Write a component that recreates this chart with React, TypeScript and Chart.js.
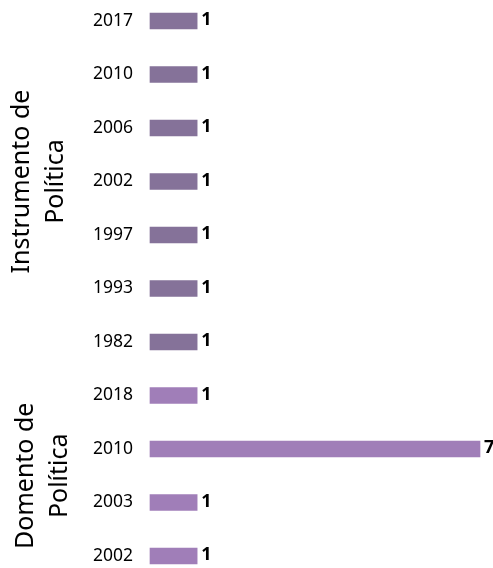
import React, { useEffect, useRef } from "react";
import { Chart, registerables } from "chart.js";

Chart.register(...registerables);

const years = ["2017", "2010", "2006", "2002", "1997", "1993", "1982", "2018", "2010", "2003", "2002"];
const counts = [1, 1, 1, 1, 1, 1, 1, 1, 7, 1, 1];
const groups = ["Instrumento de Política", "Instrumento de Política", "Instrumento de Política", "Instrumento de Política", "Instrumento de Política", "Instrumento de Política", "Instrumento de Política", "Domento de Política", "Domento de Política", "Domento de Política", "Domento de Política"];
const groupLabels = [
  { name: "Instrumento de Política", lines: ["Instrumento de", "Política"], from: 0, to: 6 },
  { name: "Domento de Política", lines: ["Domento de", "Política"], from: 7, to: 10 },
];
const groupColors: Record<string, string> = {
  "Instrumento de Política": "#857299",
  "Domento de Política": "#A07EB8",
};

const FONT = "'Noto Sans', sans-serif";

export default function App() {
  const ref = useRef<HTMLCanvasElement | null>(null);
  useEffect(() => {
    document.body.style.margin = "0";
    const canvas = ref.current!;
    const groupPlugin = {
      id: "groupPlugin",
      afterDraw(chart: any) {
        const ctx = chart.ctx;
        const y = chart.scales.y;
        const x = chart.scales.x;
        ctx.save();
        // value labels
        ctx.font = `bold 18px ${FONT}`;
        ctx.fillStyle = "#000";
        ctx.textAlign = "left";
        ctx.textBaseline = "middle";
        counts.forEach((v, i) => {
          ctx.fillText(String(v), x.getPixelForValue(v) + 4, y.getPixelForValue(i) - 1);
        });
        // group labels
        ctx.font = `25px ${FONT}`;
        ctx.fillStyle = "#000";
        ctx.textAlign = "center";
        ctx.textBaseline = "alphabetic";
        const baselines = [
          [29, 63],
          [33, 67],
        ];
        groupLabels.forEach((g, gi) => {
          const cy = (y.getPixelForValue(g.from) + y.getPixelForValue(g.to)) / 2;
          g.lines.forEach((line, li) => {
            ctx.save();
            ctx.translate(baselines[gi][li], cy);
            ctx.rotate(-Math.PI / 2);
            ctx.fillText(line, 0, 0);
            ctx.restore();
          });
        });
        ctx.restore();
      },
    };
    const chart = new Chart(canvas, {
      type: "bar",
      data: {
        labels: years,
        datasets: [
          {
            data: counts,
            backgroundColor: groups.map((g) => groupColors[g]),
            barThickness: 16,
            clip: false as any,
          },
        ],
      },
      options: {
        indexAxis: "y",
        animation: false,
        responsive: false,
        maintainAspectRatio: false,
        layout: { padding: { top: 21, bottom: 12, right: 13, left: 0 } },
        plugins: { legend: { display: false }, tooltip: { enabled: false } },
        scales: {
          x: { display: false, min: 0, max: 7 },
          y: {
            offset: false,
            grid: { display: false, drawTicks: false },
            border: { display: false },
            ticks: { padding: 17, color: "#000", font: { family: FONT, size: 17.5 } },
            afterFit(scale: any) {
              scale.width = 150;
              scale.paddingTop = 0;
              scale.paddingBottom = 0;
            },
          },
        },
      },
      plugins: [groupPlugin],
    });
    return () => chart.destroy();
  }, []);
  return <canvas ref={ref} width={493} height={568} style={{ display: "block" }} />;
}
